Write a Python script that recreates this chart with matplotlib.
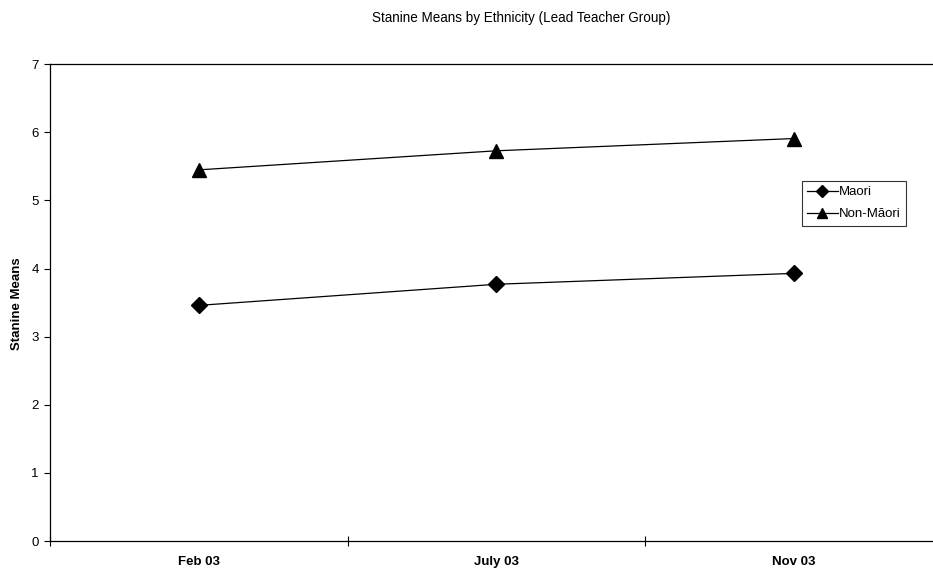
import matplotlib.pyplot as plt

plt.rcParams['font.family'] = ['Liberation Sans', 'DejaVu Sans']

# data
periods = ['Feb 03', 'July 03', 'Nov 03']
maori = [3.46, 3.77, 3.93]
non_maori = [5.45, 5.73, 5.91]

fig = plt.figure(figsize=(9.33, 5.69), dpi=100)
ax = fig.add_axes([0.0536, 0.0492, 0.957, 0.8378])

x = list(range(len(periods)))
ax.plot(x, maori, color='black', lw=0.9, marker='D', ms=8, label='Maori')
ax.plot(x, non_maori, color='black', lw=0.9, marker='^', ms=10.5, label='Non-Māori')

ax.set_xlim(-0.5, 2.5)
ax.set_ylim(0, 7)
ax.set_yticks(range(0, 8))
ax.set_xticks(x)
ax.set_xticklabels(periods, fontweight='bold', fontsize=9.5)
ax.set_xticks([-0.5, 0.5, 1.5], minor=True)
ax.tick_params(axis='x', which='major', length=0, pad=11)
ax.tick_params(axis='x', which='minor', direction='inout', length=7, width=0.8)
ax.tick_params(axis='y', direction='out', length=4, width=0.8, labelsize=9.5, pad=4)

ax.spines['right'].set_visible(False)
for s in ['left', 'bottom', 'top']:
    ax.spines[s].set_linewidth(0.9)

fig.text(521 / 933, 1 - 18 / 569, 'Stanine Means by Ethnicity (Lead Teacher Group)',
         ha='center', va='center', fontsize=9.75)
fig.text(17 / 933, 1 - 304 / 569, 'Stanine Means', rotation=90,
         ha='center', va='center', fontsize=9.5, fontweight='bold')

leg = ax.legend(loc='upper left', bbox_to_anchor=(0.8596, 0.6824),
                bbox_transform=fig.transFigure, fontsize=9.5, numpoints=1,
                fancybox=False, frameon=True, handlelength=2.3,
                handletextpad=0.1, borderpad=0.4, labelspacing=0.75,
                borderaxespad=0)
leg.get_frame().set_edgecolor('black')
leg.get_frame().set_linewidth(0.8)
for h in leg.legend_handles:
    h.set_markersize(6.5)

fig.savefig('out.png', dpi=100)
